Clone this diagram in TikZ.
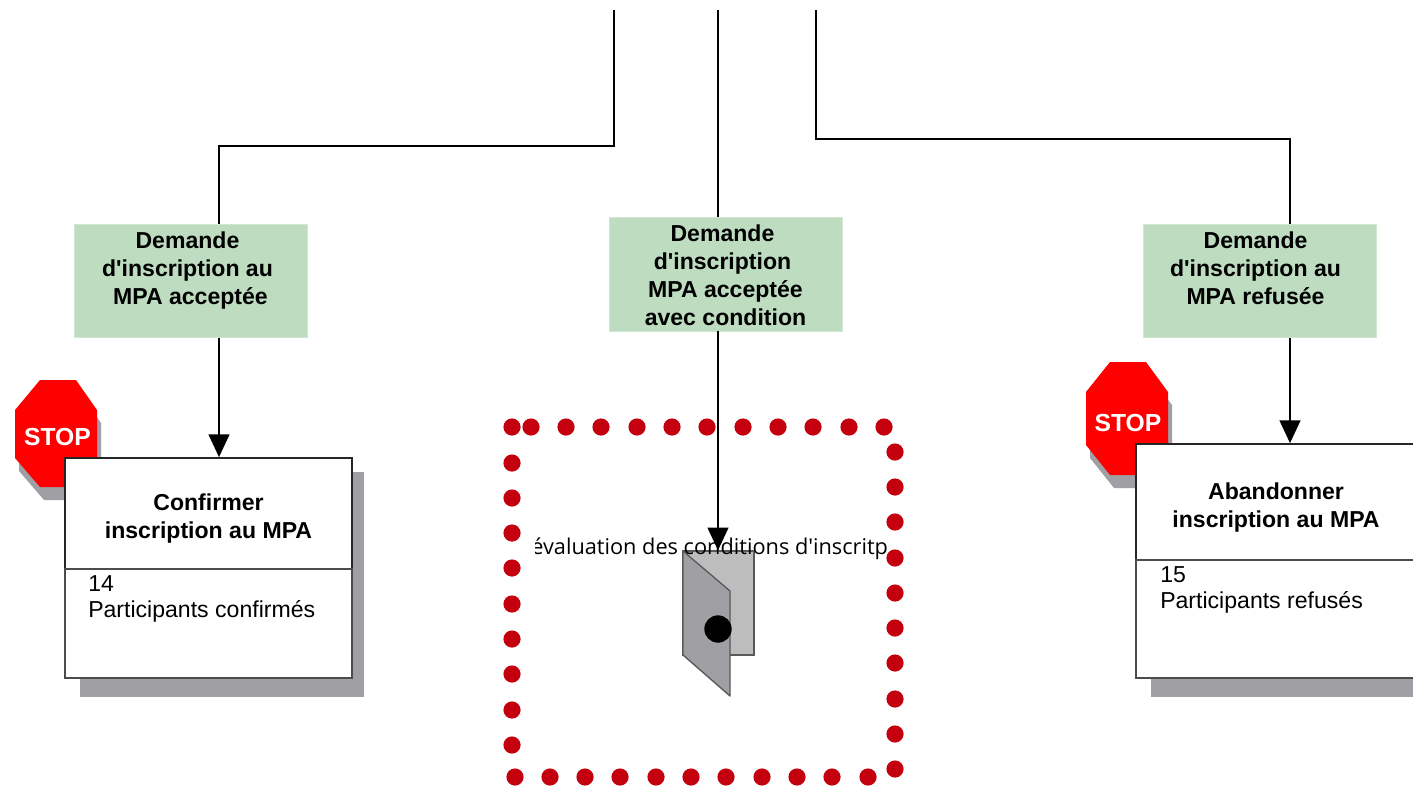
\documentclass[tikz,border=0pt]{standalone}
\usepackage{fontspec}
\setmainfont{Liberation Sans}
\newfontfamily\arialfont{Liberation Sans}
\newfontfamily\evalfont{Open Sans}
\usetikzlibrary{arrows.meta}
\definecolor{boxgreen}{HTML}{BDDCC0}
\definecolor{shadowgray}{HTML}{9F9FA4}
\definecolor{doorback}{HTML}{BDBDBD}
\definecolor{dotred}{HTML}{C4000F}
\definecolor{stopred}{HTML}{FF0000}
\tikzset{
  wire/.style={draw=black,line width=1.5pt,line join=miter},
  arrowwire/.style={wire,-{Triangle[length=17pt,width=15.5pt]}},
  greenbox/.style={fill=boxgreen,draw=boxgreen!70!white,line width=.5pt,minimum width=174.75pt,align=center,inner sep=0pt,
    font=\arialfont\fontsize{17.3pt}{21pt}\selectfont\bfseries},
  header/.style={draw=black!85,fill=white,line width=1.3pt,align=center,inner sep=0pt,
    font=\arialfont\fontsize{17.3pt}{21pt}\selectfont\bfseries},
  lower/.style={draw=black!70,fill=white,line width=1.3pt,inner sep=0pt},
  detail/.style={align=left,inner sep=0pt,anchor=north west,font=\arialfont\fontsize{17.3pt}{19.5pt}\selectfont},
  shadow/.style={fill=shadowgray},
  stopshape/.style={fill=stopred},
  stoptext/.style={text=white,inner sep=0pt,font=\arialfont\fontsize{18.5pt}{20pt}\selectfont\bfseries},
  reddot/.style={fill=dotred},
  doorline/.style={draw=black!65,line width=1pt,line join=round},
}
\newcommand{\reddots}[1]{\foreach \dx/\dy in {#1}{\fill[reddot] (\dx,\dy) circle[radius=8.6];}}
\newcommand{\nudge}[1]{\hspace*{#1}}
\begin{document}
\begin{tikzpicture}[x=.75pt,y=-.75pt]
\useasboundingbox (0,0) rectangle (1413,786);
\clip (0,0) rectangle (1413,786);
\fill[white] (0,0) rectangle (1413,786);
% free ends and bends
\coordinate (topa) at (614,10);
\coordinate (topb) at (718,10);
\coordinate (topc) at (816,10);
\coordinate (benda) at (219,146);
\coordinate (bendc) at (1290,139);
% stop signs
\fill[shadow] (44,393)--(80,393)--(101,423)--(101,471)--(80,500)--(44,500)--(19,471)--(19,423)--cycle;
\fill[stopshape] (40,380)--(76,380)--(97,410)--(97,458)--(76,487)--(40,487)--(15,458)--(15,410)--cycle;
\node[stoptext] (stopa) at (57.5,437) {STOP};
\fill[shadow] (1114,375)--(1150,375)--(1172,405)--(1172,458)--(1150,488)--(1114,488)--(1090,458)--(1090,405)--cycle;
\fill[stopshape] (1110,362)--(1146,362)--(1168,392)--(1168,445)--(1146,475)--(1110,475)--(1086,445)--(1086,392)--cycle;
\node[stoptext] (stopb) at (1128,423) {STOP};
% shadows
\fill[shadow] (80,472) rectangle (364,697);
\fill[shadow] (1151,460) rectangle (1440,697);
% boxes
\node[header,minimum width=215.25pt,minimum height=83.25pt,text height=41.8pt] (confa) at (208.5,513.5) {Confirmer\\inscription au MPA};
\node[lower,minimum width=215.25pt,minimum height=81.75pt] (confb) at (208.5,623.5) {};
\node[detail] (conft) at (88,575) {14\\Participants confirmés};
\node[header,minimum width=225pt,minimum height=87pt] (abana) at (1286,502) {};
\node[lower,minimum width=225pt,minimum height=88.5pt] (abanb) at (1286,619) {};
\node[align=center,inner sep=0pt,font=\arialfont\fontsize{17.3pt}{21pt}\selectfont\bfseries] (abant) at (1276,507.5) {Abandonner\\inscription au MPA};
\node[detail] (abanl) at (1160,566) {15\\Participants refusés};
% green boxes
\node[greenbox,minimum height=85pt,text depth=18.3pt] (ga) at (190.5,280.5) {\nudge{-4.5pt}Demande\\\nudge{-4.5pt}d'inscription au\\MPA acceptée};
\node[greenbox,minimum height=85.5pt,text height=77.1pt] (gb) at (725.5,274) {\nudge{-4.5pt}Demande\\\nudge{-4.5pt}d'inscription\\MPA acceptée\\avec condition};
\node[greenbox,minimum height=85pt,text depth=18.3pt] (gc) at (1259.5,280.5) {\nudge{-6pt}Demande\\\nudge{-6pt}d'inscription au\\\nudge{-6pt}MPA refusée};
% door
\node[draw=black!65,fill=doorback,line width=1pt,minimum width=53.25pt,minimum height=78pt,inner sep=0pt] (doorback) at (718.5,603) {};
\fill[shadowgray,doorline] (683,551)--(730,591)--(730,696)--(683,655)--cycle;
\node[circle,fill=black,minimum size=20.5pt,inner sep=0pt] (knob) at (718,629) {};
% connectors
\draw[wire] (topa) |- (benda) -- (ga.north -| benda);
\draw[wire] (topb) -- (gb.north -| topb);
\draw[wire] (topc) |- (bendc) -- (gc.north -| bendc);
\draw[arrowwire] (ga.south -| benda) -- (confa.north -| benda);
\draw[arrowwire] (gb.south -| topb) -- (doorback.north -| topb);
\draw[arrowwire] (gc.south -| bendc) -- (abana.north -| bendc);
% clipped text
\begin{scope}
\clip (535,530) rectangle (888,570);
\node[anchor=west,inner sep=0pt,font=\fontsize{16.3pt}{18pt}\selectfont\evalfont] (evaltext) at (531,549) {évaluation des conditions d'inscritp};
\end{scope}
% red dotted frame
\reddots{512/427,512/463,512/498,512/533,512/568,512/604,512/639,512/674,512/710,512/745}
\reddots{531/427,566/427,601/427,637/427,672/427,707/427,743/427,778/427,813/427,849/427,884/427}
\reddots{895/452,895/487,895/522,895/558,895/593,895/628,895/663,895/699,895/734,895/769}
\reddots{515/777,550/777,585/777,620/777,656/777,691/777,726/777,762/777,797/777,832/777,868/777}
\end{tikzpicture}
\end{document}
